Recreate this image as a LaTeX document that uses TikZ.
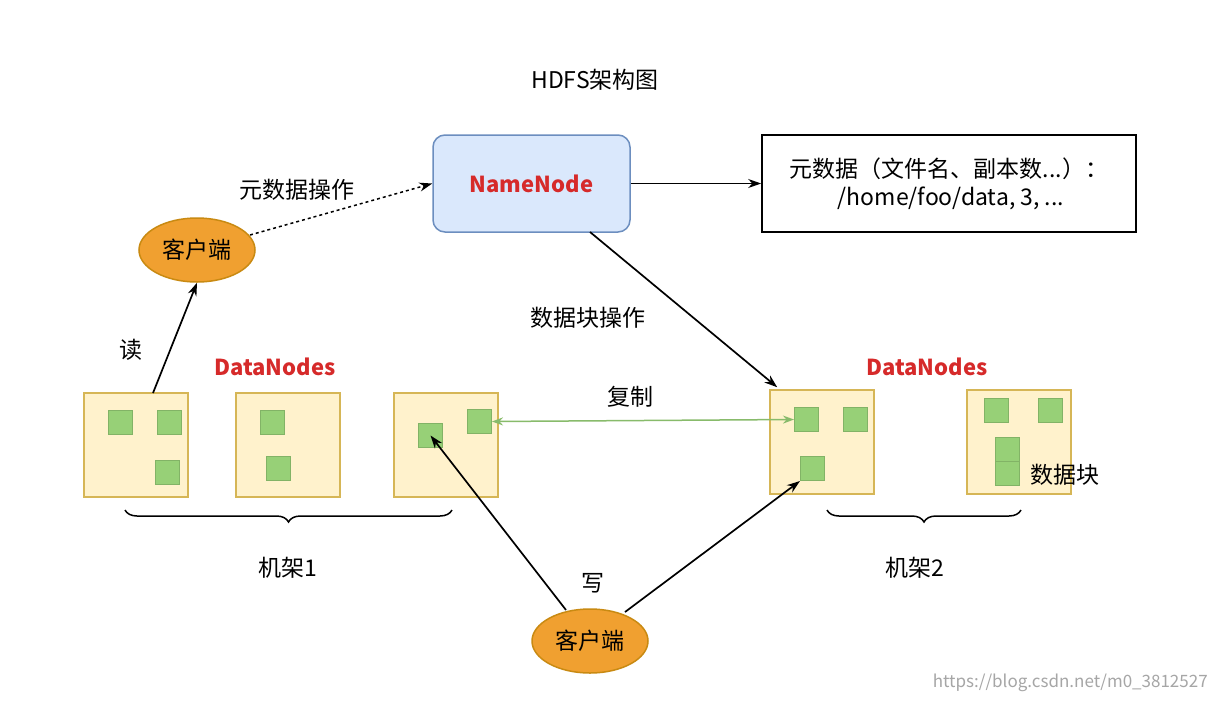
\documentclass[tikz,border=0pt]{standalone}
\usepackage{fontspec}
\setmainfont{Noto Sans CJK SC}
\usetikzlibrary{arrows.meta,decorations.pathreplacing,shapes.geometric}
\definecolor{nnfill}{HTML}{DAE8FC}\definecolor{nnline}{HTML}{6C8EBF}
\definecolor{orf}{HTML}{F0A030}\definecolor{orl}{HTML}{C98A12}
\definecolor{dnf}{HTML}{FFF2CC}\definecolor{dnl}{HTML}{D6B656}
\definecolor{blf}{HTML}{97D077}\definecolor{bll}{HTML}{82B366}
\definecolor{red1}{HTML}{D62A2A}
\begin{document}
\begin{tikzpicture}[x=1pt,y=-1pt,
  txt/.style={font=\fontsize{23}{28}\selectfont},
  client/.style={ellipse,draw=orl,fill=orf,line width=1.5pt,minimum width=116pt,minimum height=64pt,inner sep=0pt,font=\fontsize{23}{28}\selectfont},
  dn/.style={draw=dnl,fill=dnf,line width=1.5pt,minimum width=104pt,minimum height=104pt,inner sep=0pt},
  blk/.style={draw=bll,fill=blf,line width=1pt,minimum width=24pt,minimum height=24pt,inner sep=0pt,anchor=north west},
  red/.style={text=red1,font=\fontsize{22}{26}\selectfont\bfseries},
  arr/.style={-{Stealth[length=13pt,width=9pt]},line width=1.7pt},
  br/.style={decorate,decoration={brace,mirror,amplitude=12pt},line width=1.5pt}]
\useasboundingbox (0,0) rectangle (1208,702);
\fill[white] (0,0) rectangle (1208,702);
\node[txt] (title) at (595,80) {HDFS架构图};
\node[draw=nnline,fill=nnfill,line width=1.5pt,rounded corners=12pt,minimum width=197pt,minimum height=97pt,red] (nn) at (531.5,183.5) {NameNode};
\node[draw,line width=1.7pt,minimum width=374pt,minimum height=97pt,align=center,txt] (meta) at (949,183.5) {元数据（文件名、副本数...）：\\[0pt]\,/home/foo/data, 3, ...};
\draw[arr] (nn.east) -- (meta.west);
\node[client] (c1) at (197,250) {客户端};
\coordinate (c1a) at (250,235);
\draw[arr,dashed,line width=1.5pt] (c1a) -- (nn.west);
\node[txt] (l1) at (297,190) {元数据操作};
\node[dn] (d1) at (136,445) {};
\node[dn] (d2) at (288,445) {};
\node[dn] (d3) at (446,445) {};
\node[dn] (d4) at (822,442) {};
\node[dn] (d5) at (1019,442) {};
\node[red] (dnl1) at (275,367) {DataNodes};
\node[red] (dnl2) at (927,367) {DataNodes};
\node[blk] (b11) at (108,410) {};\node[blk] (b12) at (157,410) {};\node[blk] (b13) at (155,460) {};
\node[blk] (b21) at (260,410) {};\node[blk] (b22) at (266,456) {};
\node[blk] (b31) at (418,423) {};\node[blk] (b32) at (467,409) {};
\node[blk] (b41) at (794,407) {};\node[blk] (b42) at (843,407) {};\node[blk] (b43) at (800,456) {};
\node[blk] (b51) at (984,398) {};\node[blk] (b52) at (1038,398) {};\node[blk] (b53) at (995,437) {};\node[blk] (b54) at (995,461) {};
\node[txt] (sjk) at (1065,475) {数据块};
\coordinate (d1t) at (153,393);
\draw[arr] (d1t) -- (c1.south);
\node[txt] (rd) at (131,350) {读};
\draw[{Stealth[length=11pt,width=8pt]}-{Stealth[length=11pt,width=8pt]},draw=blf!90!black,line width=1.5pt] (b32.east) -- (b41.west);
\node[txt] (cp) at (630,397) {复制};
\coordinate (nns) at (590,232);
\draw[arr] (nns) -- ([shift={(8,-2)}]d4.north west);
\node[txt] (op) at (588,318) {数据块操作};
\draw[br] (125,510) -- (452,510);
\draw[br] (827,510) -- (1021,510);
\node[txt] (r1) at (288,568) {机架1};
\node[txt] (r2) at (915,568) {机架2};
\node[client] (c2) at (590,641) {客户端};
\coordinate (c2a) at (566,610);
\coordinate (c2b) at (625,612);
\draw[arr] (c2a) -- (b31.center);
\draw[arr] (c2b) -- (b43.south west);
\node[txt] (wr) at (593,583) {写};
\node[text=black!35,font=\fontsize{17}{20}\selectfont] (wm) at (1075,683) {https://blog.csdn.net/m0\_38125278};
\end{tikzpicture}
\end{document}
